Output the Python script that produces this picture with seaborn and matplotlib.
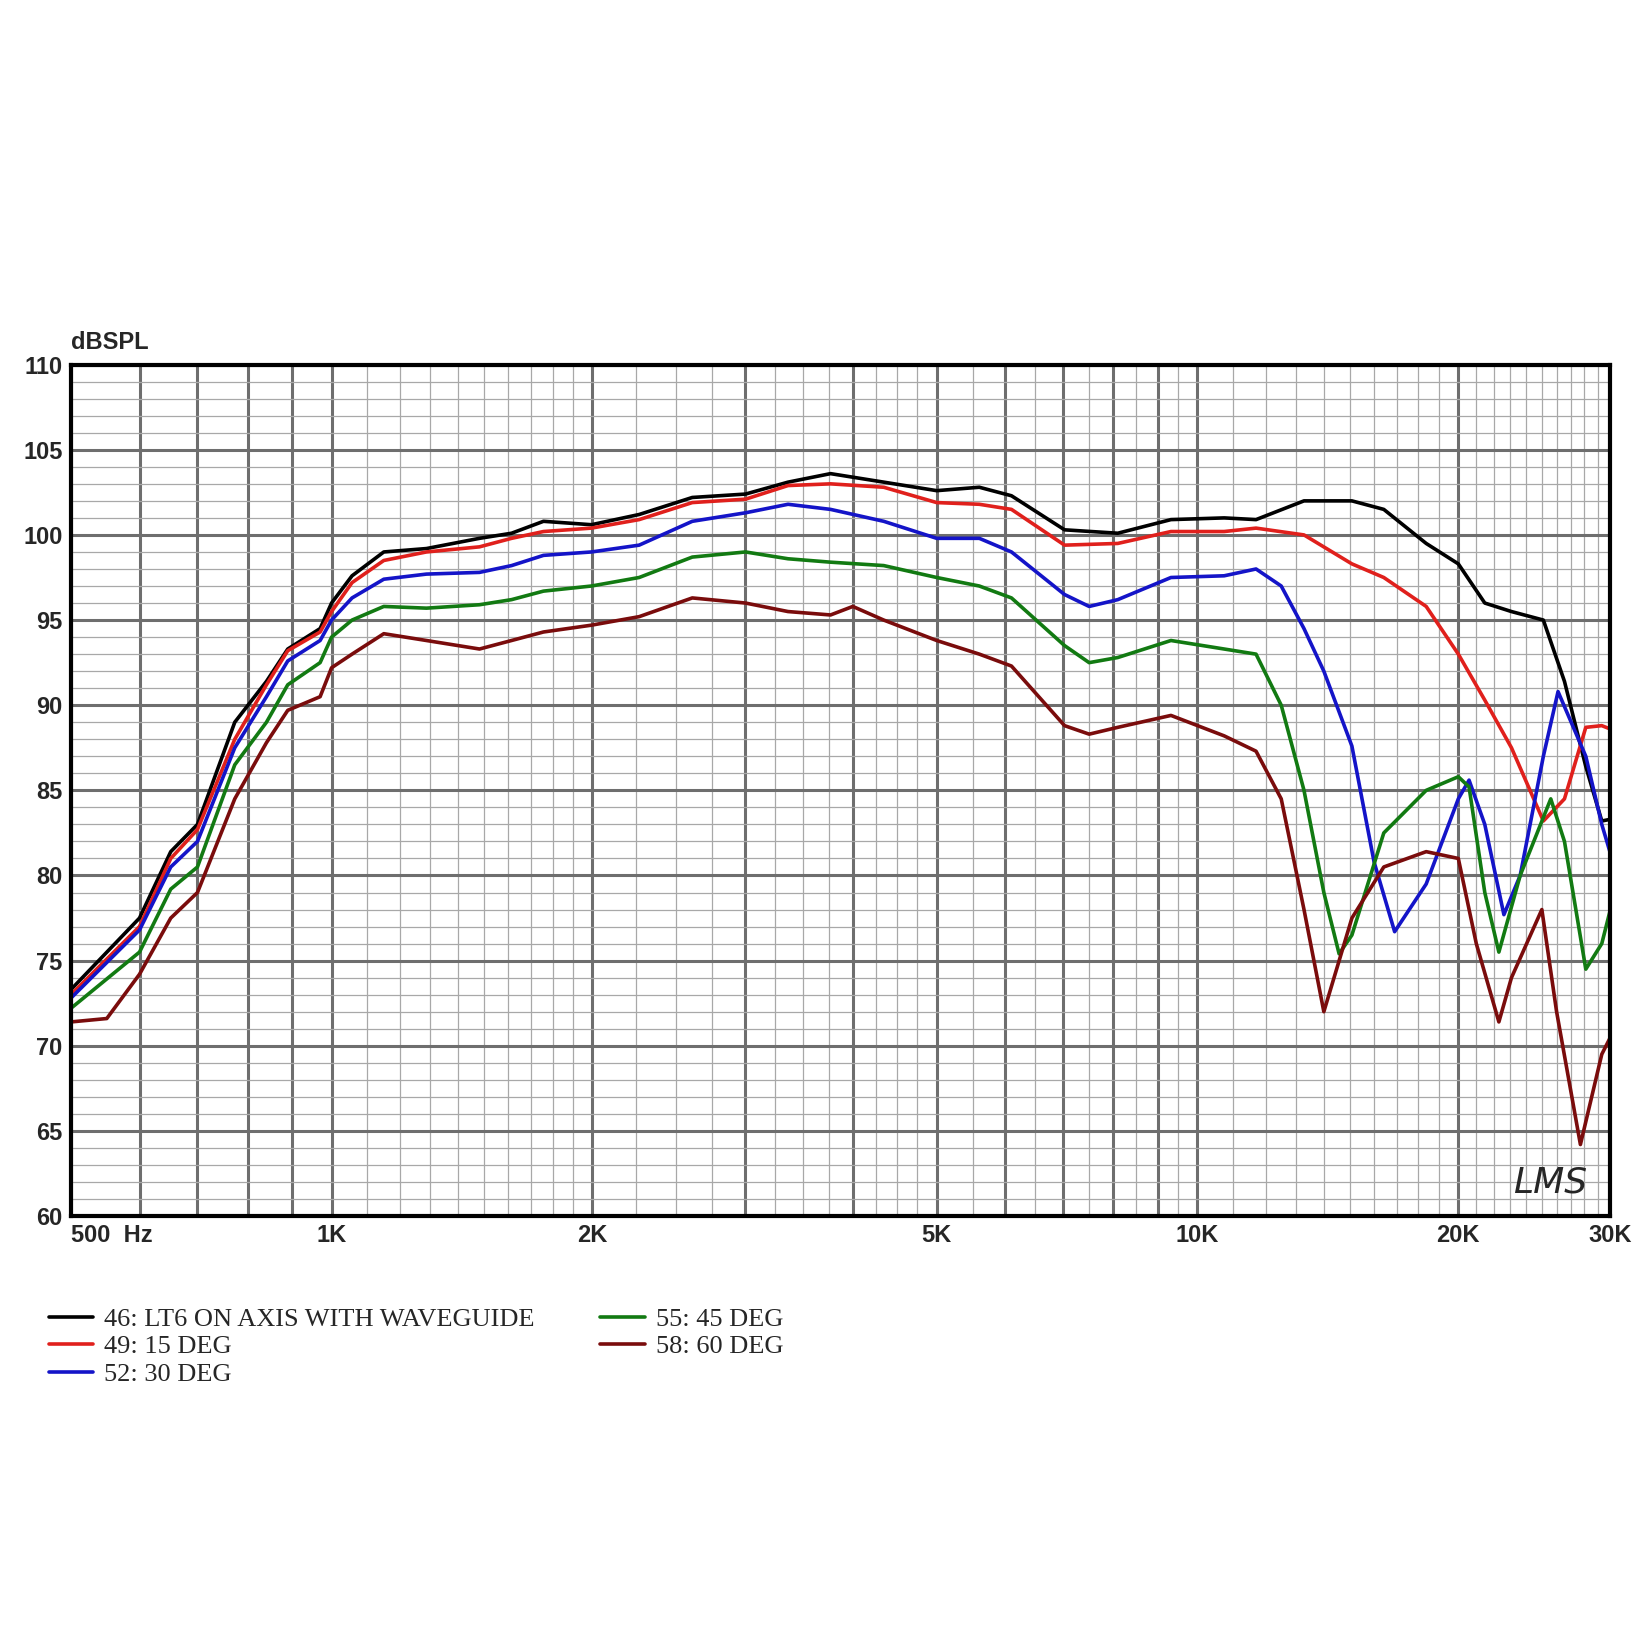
import numpy as np
import pandas as pd
import matplotlib
matplotlib.use("Agg")
import matplotlib.pyplot as plt
import seaborn as sns
from matplotlib.ticker import FixedLocator, NullFormatter

sns.set_theme(style="white")
plt.rcParams['font.family'] = ['Liberation Sans', 'DejaVu Sans']

f0 = [500, 600, 652, 700, 773, 841, 890, 970, 1000, 1056, 1149, 1287, 1482, 1614, 1757, 1996,
      2266, 2610, 3007, 3367, 3770, 4343, 5000, 5600, 6100, 7025, 8093, 9323, 10740, 11690]

black_f = f0 + [13280, 15085, 16420, 18380, 20020, 21480, 23060, 25100, 26550, 28100, 29320, 30000]
black_v = [73.3, 77.5, 81.4, 83, 89, 91.4, 93.3, 94.5, 96, 97.6, 99, 99.2, 99.8, 100.1, 100.8, 100.6,
           101.2, 102.2, 102.4, 103.1, 103.6, 103.1, 102.6, 102.8, 102.3, 100.3, 100.1, 100.9, 101, 100.9,
           102, 102, 101.5, 99.5, 98.3, 96, 95.5, 95, 91.4, 86.4, 83.2, 83.3]

red_f = f0 + [13280, 15085, 16420, 18380, 20020, 21480, 23060, 25100, 26550, 28100, 29320, 30000]
red_v = [73, 77, 81, 82.7, 88, 91.2, 93.2, 94.3, 95.5, 97.2, 98.5, 99, 99.3, 99.8, 100.2, 100.4,
         100.9, 101.9, 102.1, 102.9, 103, 102.8, 101.9, 101.8, 101.5, 99.4, 99.5, 100.2, 100.2, 100.4,
         100, 98.3, 97.5, 95.8, 93, 90.3, 87.5, 83.2, 84.5, 88.7, 88.8, 88.6]

blue_f = [500, 600, 652, 700, 773, 841, 890, 970, 1000, 1056, 1149, 1287, 1482, 1614, 1757, 1996,
          2266, 2610, 3007, 3367, 3770, 4343, 5000, 5600, 6100, 7025, 7500, 8093, 9323, 10740, 11690,
          12500, 13280, 14000, 15085, 16000, 16900, 18380, 20020, 20600, 21480, 22600, 23600, 25100,
          26100, 28100, 29320, 30000]
blue_v = [72.8, 76.8, 80.5, 82, 87.5, 90.5, 92.6, 93.8, 95, 96.3, 97.4, 97.7, 97.8, 98.2, 98.8, 99,
          99.4, 100.8, 101.3, 101.8, 101.5, 100.8, 99.8, 99.8, 99, 96.5, 95.8, 96.2, 97.5, 97.6, 98,
          97, 94.5, 92, 87.6, 80.8, 76.7, 79.5, 84.5, 85.6, 83, 77.7, 80, 87, 90.8, 87, 83, 81.3]

green_f = [500, 600, 652, 700, 773, 841, 890, 970, 1000, 1056, 1149, 1287, 1482, 1614, 1757, 1996,
           2266, 2610, 3007, 3367, 3770, 4343, 5000, 5600, 6100, 7025, 7500, 8093, 9323, 10740, 11690,
           12500, 13280, 14000, 14580, 15085, 16420, 18380, 20020, 20600, 21480, 22300, 23600, 25600,
           26550, 28100, 29320, 30000]
green_v = [72.2, 75.5, 79.2, 80.5, 86.5, 89, 91.2, 92.5, 94, 95, 95.8, 95.7, 95.9, 96.2, 96.7, 97,
           97.5, 98.7, 99, 98.6, 98.4, 98.2, 97.5, 97, 96.3, 93.5, 92.5, 92.8, 93.8, 93.3, 93,
           90, 85, 79, 75.4, 76.5, 82.5, 85, 85.8, 85.2, 79, 75.5, 80, 84.5, 82, 74.5, 76, 78]

dred_f = [500, 550, 600, 652, 700, 773, 841, 890, 970, 1000, 1056, 1149, 1287, 1482, 1614, 1757, 1996,
          2266, 2610, 3007, 3367, 3770, 4000, 4343, 5000, 5600, 6100, 7025, 7500, 8093, 9323, 10740,
          11690, 12500, 13280, 14000, 15085, 16420, 18380, 20020, 21000, 22300, 23060, 25000, 26000,
          27700, 29320, 30000]
dred_v = [71.4, 71.6, 74.2, 77.5, 79, 84.5, 87.8, 89.7, 90.5, 92.2, 93, 94.2, 93.8, 93.3, 93.8, 94.3,
          94.7, 95.2, 96.3, 96, 95.5, 95.3, 95.8, 95, 93.8, 93, 92.3, 88.8, 88.3, 88.7, 89.4, 88.2,
          87.3, 84.5, 78, 72, 77.5, 80.5, 81.4, 81, 76, 71.4, 74, 78, 72, 64.2, 69.5, 70.5]

series = [("46: LT6 ON AXIS WITH WAVEGUIDE", black_f, black_v, "#000000"),
          ("49: 15 DEG", red_f, red_v, "#e0201c"),
          ("52: 30 DEG", blue_f, blue_v, "#1414c8"),
          ("55: 45 DEG", green_f, green_v, "#127a12"),
          ("58: 60 DEG", dred_f, dred_v, "#7a0c0c")]

fig = plt.figure(figsize=(16.5, 16.5), dpi=100)
ax = fig.add_axes([0.043, 0.263, 0.933, 0.516])
ax.set_xscale("log")
ax.set_xlim(500, 30000)
ax.set_ylim(60, 110)

# grid
minor_x = list(range(500, 2000, 100)) + list(range(2000, 5000, 250)) + list(range(5000, 10000, 500)) + \
          list(range(10000, 30001, 1000))
for x in minor_x:
    ax.axvline(x, color="#a8a8a8", lw=0.9, zorder=0)
major_x = [500, 600, 700, 800, 900, 1000, 2000, 3000, 4000, 5000, 6000, 7000, 8000, 9000, 10000, 20000]
for x in major_x:
    ax.axvline(x, color="#6e6e6e", lw=2.2, zorder=0)
for y in range(60, 111):
    ax.axhline(y, color="#a8a8a8", lw=0.9, zorder=0)
for y in range(60, 111, 5):
    ax.axhline(y, color="#6e6e6e", lw=2.2, zorder=0)

for name, fx, fy, c in series:
    df = pd.DataFrame({"f": fx, "v": fy})
    sns.lineplot(data=df, x="f", y="v", ax=ax, color=c, lw=2.6, label=name, sort=False)

ax.xaxis.set_major_locator(FixedLocator([500, 1000, 2000, 5000, 10000, 20000, 30000]))
ax.set_xticklabels(["500  Hz", "1K", "2K", "5K", "10K", "20K", "30K"])
ax.xaxis.set_minor_formatter(NullFormatter())
ax.set_yticks(range(60, 111, 5))
ax.tick_params(axis="both", length=0, labelsize=17, pad=6)
for lab in ax.get_xticklabels() + ax.get_yticklabels():
    lab.set_fontweight("bold")
ax.get_xticklabels()[0].set_horizontalalignment("left")
ax.get_xticklabels()[0].set_x(480)
ax.set_xlabel("")
ax.set_ylabel("")
for s in ax.spines.values():
    s.set_color("black")
    s.set_linewidth(3)
ax.text(0.0, 1.012, "dBSPL", transform=ax.transAxes, fontsize=17, fontweight="bold", ha="left", va="bottom")
ax.text(0.985, 0.02, "LMS", transform=ax.transAxes, fontsize=26, style="italic", ha="right", va="bottom",
        family="DejaVu Sans")

leg = ax.legend(loc="upper left", bbox_to_anchor=(0.02 / 0.933 * -1 + 0.0, -0.095), ncol=2, frameon=False,
                prop={"family": "Liberation Serif", "size": 19}, handlelength=1.7, handletextpad=0.4,
                columnspacing=2.5, labelspacing=0.15, borderaxespad=0)
for lh in leg.get_lines():
    lh.set_linewidth(2.6)

fig.savefig("out.png", dpi=100, facecolor="white")
